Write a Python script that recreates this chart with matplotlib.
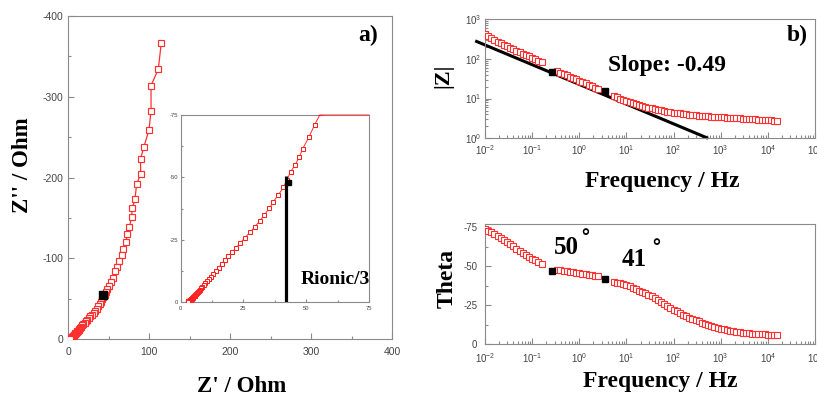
import numpy as np
import matplotlib
matplotlib.use("Agg")
import matplotlib.pyplot as plt
from matplotlib.ticker import MultipleLocator, LogLocator, NullFormatter

# ---------------- data ----------------
# Bode data
freq_hz = [0.01, 0.01166, 0.01359, 0.01585, 0.01848, 0.02154, 0.02512, 0.02929,
           0.03415, 0.03981, 0.04642, 0.05412, 0.06310, 0.07356, 0.08577, 0.1,
           0.1166, 0.1359, 0.1585,
           0.3415, 0.3981, 0.4642, 0.5412, 0.6310, 0.7356, 0.8577, 1.0, 1.166,
           1.359, 1.585, 1.848, 2.154, 2.512,
           5.412, 6.310, 7.356, 8.577, 10.0, 11.66, 13.59, 15.85, 18.48, 21.54,
           25.12, 29.29, 34.15, 39.81, 46.42, 54.12, 63.10, 73.56, 85.77, 100.0,
           116.6, 135.9, 158.5, 184.8, 215.4, 251.2, 292.9, 341.5, 398.1, 464.2,
           541.2, 631.0, 735.6, 857.7, 1000.0, 1166.0, 1359.0, 1585.0, 1848.0,
           2154.0, 2512.0, 2929.0, 3415.0, 3981.0, 4642.0, 5412.0, 6310.0, 7356.0,
           8577.0, 10000.0, 11660.0, 13590.0, 15850.0]
zmod_ohm = [417, 372, 331, 295, 269, 245, 224, 204, 186, 172, 158, 146, 135, 124,
            115, 106, 97.7, 90.2, 82.0,
            47.9, 44.7, 41.2, 38.0, 35.5, 32.7, 30.2, 28.2, 26.0, 24.0, 22.1,
            20.4, 18.8, 17.4,
            11.5, 10.7, 10.0, 9.33, 8.71, 8.13, 7.67, 7.24, 6.84, 6.46, 6.17,
            5.89, 5.62, 5.37, 5.19, 5.01, 4.84, 4.68, 4.52, 4.42, 4.32, 4.22,
            4.12, 4.03, 3.94, 3.85, 3.78, 3.72, 3.66, 3.61, 3.56, 3.52, 3.47,
            3.43, 3.39, 3.35, 3.31, 3.27, 3.24, 3.20, 3.16, 3.13, 3.09, 3.05,
            3.02, 2.99, 2.95, 2.92, 2.88, 2.85, 2.82, 2.79, 2.75]
theta_deg = [-73.6, -72.6, -71.6, -70.5, -69.4, -68.2, -67.0, -65.7, -64.2, -62.7,
             -61.2, -59.7, -58.3, -57.0, -55.8, -54.7, -53.7, -52.7, -51.7,
             -47.8, -47.4, -47.0, -46.7, -46.4, -46.1, -45.8, -45.5, -45.2,
             -44.9, -44.6, -44.3, -43.9, -43.5,
             -40.1, -39.5, -39.0, -38.4, -37.8, -37.1, -36.2, -35.3, -34.4,
             -33.5, -32.6, -31.7, -30.8, -29.6, -28.4, -27.2, -26.0, -24.7,
             -23.4, -22.2, -21.1, -20.0, -19.0, -18.0, -17.0, -16.1, -15.3,
             -14.6, -13.9, -13.2, -12.5, -11.9, -11.2, -10.6, -10.0, -9.5, -9.0,
             -8.6, -8.3, -8.0, -7.7, -7.4, -7.2, -7.0, -6.8, -6.6, -6.5, -6.4,
             -6.3, -6.2, -6.1, -6.0, -5.9]
marked_freq_hz = [0.263, 3.5]
marked_zmod_ohm = [45.7, 15.1]
marked_theta_deg = [-46.7, -42.1]
fit_freq_hz = [0.0062, 540.0]
fit_zmod_ohm = [282.0, 1.0]

# Nyquist data
nyq_re = [115.2, 111.5, 102.5, 102.5, 100.0, 93.8, 89.6, 89.6, 84.7, 82.7,
          79.4, 78.5, 75.7, 73.2, 71.6, 67.9, 66.2, 63.3, 60.9, 58.4,
          55.4, 53.3, 51.0, 48.6, 47.3, 45.5, 43.8, 42.3, 40.9, 38.9,
          36.9, 35.3, 33.3, 31.6, 29.6, 27.6, 25.6, 23.8, 22.1, 20.5,
          19.0, 17.6, 16.3, 15.1, 14.0, 13.0, 12.1, 11.3, 10.5, 9.8,
          9.2, 8.6, 8.1, 7.6, 7.2, 6.8, 6.4, 6.1, 5.8, 5.5,
          5.2, 5.0, 4.8, 4.6, 4.4, 4.25, 4.1, 3.95, 3.8, 3.7,
          3.6, 3.5, 3.4, 3.32, 3.24, 3.17, 3.1, 3.04, 2.98, 2.92,
          2.87, 2.82, 2.77, 2.72]
nyq_im = [-367.1, -334.2, -313.9, -282.6, -259.0, -238.3, -223.1, -204.2, -191.6, -173.6,
          -162.1, -151.0, -138.1, -129.9, -120.0, -111.8, -103.5, -96.0, -89.1, -83.7,
          -76.0, -71.0, -66.0, -61.5, -58.3, -54.9, -52.3, -49.0, -46.0, -43.0,
          -40.3, -37.6, -35.0, -32.7, -30.3, -28.0, -25.9, -23.8, -21.9, -20.1,
          -18.4, -16.8, -15.3, -13.9, -12.6, -11.4, -10.3, -9.3, -8.4, -7.6,
          -6.9, -6.2, -5.6, -5.0, -4.5, -4.1, -3.7, -3.3, -3.0, -2.7,
          -2.4, -2.15, -1.9, -1.7, -1.5, -1.33, -1.18, -1.05, -0.93, -0.83,
          -0.74, -0.66, -0.6, -0.55, -0.5, -0.46, -0.42, -0.39, -0.36, -0.34,
          -0.32, -0.3, -0.28, -0.27]
nyq_marked_re = [43.2]
nyq_marked_im = [-54.8]
inset_marked_re = [42.6]
inset_marked_im = [-48.3]
rionic_bar_re = [41.8, 41.8]
rionic_bar_im = [0.0, -50.5]

# ---------------- style ----------------
plt.rcParams['font.family'] = ['Liberation Sans', 'DejaVu Sans']
plt.rcParams['axes.unicode_minus'] = False
plt.rcParams['mathtext.default'] = 'regular'

RED = '#ff3030'
GRAY = '#8a8a8a'
LABGRAY = '#444444'
SERIF = ['Liberation Serif', 'DejaVu Serif']

W, H = 817, 397
fig = plt.figure(figsize=(W / 100, H / 100), dpi=100)


def rect(l, t, r, b):
    return [l / W, 1 - b / H, (r - l) / W, (b - t) / H]


def fpx(x, y):
    return x / W, 1 - y / H


def style(ax, size, padx, pady, major=4.0, minor=2.5):
    for s in ax.spines.values():
        s.set_color(GRAY)
        s.set_linewidth(0.8)
    ax.tick_params(which='both', direction='in', top=False, right=False,
                   color=GRAY, labelcolor=LABGRAY, labelsize=size, width=0.8)
    ax.tick_params(which='major', length=major)
    ax.tick_params(which='minor', length=minor)
    ax.tick_params(axis='x', which='both', pad=padx)
    ax.tick_params(axis='y', which='both', pad=pady)


# ---------------- panel a: Nyquist ----------------
ax_a = fig.add_axes(rect(68, 16, 392, 339))
ax_a.plot(nyq_re, nyq_im, '-', color=RED, lw=0.9, marker='s', ms=4.4,
          mfc='white', mec=RED, mew=0.85, zorder=3)
ax_a.plot(nyq_marked_re, nyq_marked_im, 's', color='black', ms=5.2, zorder=4)
ax_a.set_xlim(0, 400)
ax_a.set_ylim(0, -400)
ax_a.xaxis.set_major_locator(MultipleLocator(100))
ax_a.xaxis.set_minor_locator(MultipleLocator(50))
ax_a.yaxis.set_major_locator(MultipleLocator(100))
ax_a.yaxis.set_minor_locator(MultipleLocator(50))
style(ax_a, 7.5, 6, 3.5)

# inset
ax_in = fig.add_axes(rect(180.7, 115, 369, 302.3))
ax_in.plot(np.minimum(nyq_re, 75), np.maximum(nyq_im, -75), '-', color=RED,
           lw=0.7, clip_on=False, zorder=3)
ax_in.plot(nyq_re, nyq_im, 's', ls='none', ms=2.7, mfc='white', mec='#ff2020',
           mew=0.75, zorder=3)
ax_in.plot(rionic_bar_re, rionic_bar_im, '-', color='black', lw=2.3,
           solid_capstyle='butt', zorder=5)
ax_in.plot(inset_marked_re, inset_marked_im, 's', color='black', ms=3.6, zorder=5)
ax_in.set_xlim(0, 75)
ax_in.set_ylim(0, -75)
ax_in.xaxis.set_major_locator(MultipleLocator(25))
ax_in.xaxis.set_minor_locator(MultipleLocator(12.5))
ax_in.yaxis.set_major_locator(MultipleLocator(25))
ax_in.yaxis.set_minor_locator(MultipleLocator(12.5))
style(ax_in, 4.2, 2.5, 2.0, major=2.5, minor=1.5)

# ---------------- panel b top: |Z| ----------------
ax_b1 = fig.add_axes(rect(485, 19, 815, 138.3))
ax_b1.set_xscale('log')
ax_b1.set_yscale('log')
ax_b1.plot(fit_freq_hz, fit_zmod_ohm, '-', color='black', lw=2.2,
           clip_on=False, zorder=2, solid_capstyle='butt')
ax_b1.plot(freq_hz, zmod_ohm, 's', ls='none', ms=3.7, mfc='white', mec=RED,
           mew=0.8, zorder=3)
ax_b1.plot(marked_freq_hz, marked_zmod_ohm, 's', color='black', ms=4.2, zorder=4)
ax_b1.set_xlim(1e-2, 1e5)
ax_b1.set_ylim(1, 1000)

# ---------------- panel b bottom: Theta ----------------
ax_b2 = fig.add_axes(rect(485, 224, 815, 344.3))
ax_b2.set_xscale('log')
ax_b2.plot(freq_hz, theta_deg, 's', ls='none', ms=3.7, mfc='white', mec=RED,
           mew=0.8, zorder=3)
ax_b2.plot(marked_freq_hz, marked_theta_deg, 's', color='black', ms=4.2, zorder=4)
ax_b2.set_xlim(1e-2, 1e5)
ax_b2.set_ylim(0, -77)
ax_b2.yaxis.set_major_locator(MultipleLocator(25))
ax_b2.yaxis.set_minor_locator(MultipleLocator(12.5))

for ax in (ax_b1, ax_b2):
    ax.xaxis.set_major_locator(LogLocator(base=10, numticks=12))
    ax.xaxis.set_minor_locator(LogLocator(base=10, subs=np.arange(2, 10), numticks=12))
    ax.xaxis.set_minor_formatter(NullFormatter())
ax_b1.yaxis.set_major_locator(LogLocator(base=10, numticks=12))
ax_b1.yaxis.set_minor_locator(LogLocator(base=10, subs=np.arange(2, 10), numticks=12))
ax_b1.yaxis.set_minor_formatter(NullFormatter())
style(ax_b1, 7, 3.5, 2.4)
style(ax_b2, 7, 5.0, 5.5)

# ---------------- texts ----------------
def T(x, y, s, size, rot=0):
    fig.text(*fpx(x, y), s, fontsize=size, fontweight='bold', family=SERIF,
             ha='center', va='center', rotation=rot)


T(23, 165, "Z'' / Ohm", 16.5, rot=90)
T(242, 386, "Z' / Ohm", 16.5)
T(368, 35, "a)", 17)
T(797, 35, "b)", 17)
T(335, 280, "Rionic/3", 14)
T(443, 76, "|Z|", 16, rot=90)
T(447, 278, "Theta", 17, rot=90)
T(662, 181, "Frequency / Hz", 17)
T(660, 382, "Frequency / Hz", 17)
T(667, 65, "Slope: -0.49", 17)
T(566, 247, "50", 18)
T(634, 259, "41", 18)
for (dx, dy) in ((585, 243), (656, 253)):
    fig.text(*fpx(dx, dy), "°", fontsize=14, fontweight='bold',
             family=['DejaVu Sans'], ha='center', va='baseline')

fig.savefig("out.png", dpi=100)
